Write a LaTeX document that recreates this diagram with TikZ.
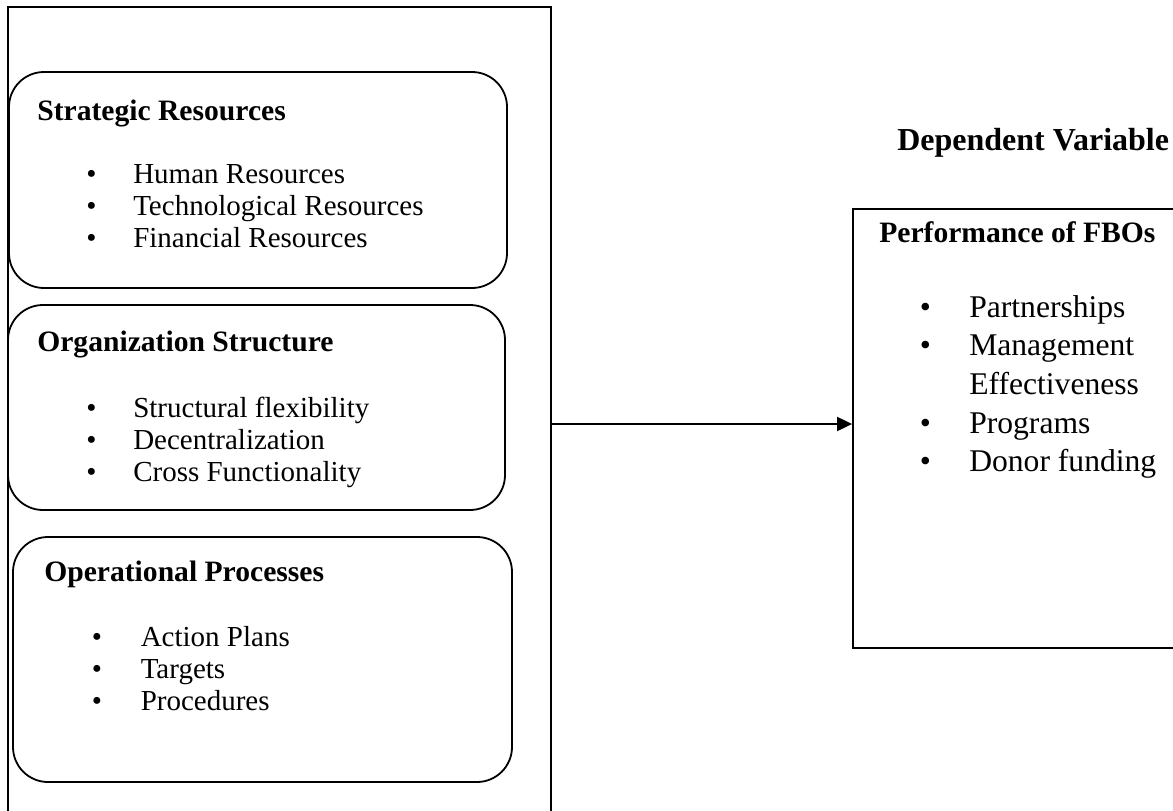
\documentclass[tikz,border=0pt]{standalone}
\usepackage{fontspec}
\setmainfont{Liberation Serif}
\usetikzlibrary{arrows.meta, positioning}

\begin{document}
\begin{tikzpicture}[
    x=1pt, y=-1pt,
    frame/.style={draw, line width=1.6pt, inner sep=0pt},
    group/.style={draw, rounded corners=35pt, line width=1.8pt, inner sep=0pt},
    head/.style={font=\fontsize{29.6}{34}\selectfont\bfseries, inner sep=0pt, anchor=base west},
    items/.style={font=\fontsize{29}{32}\selectfont, inner sep=0pt, anchor=base west},
    bighead/.style={font=\fontsize{32}{36}\selectfont\bfseries, inner sep=0pt, anchor=base west},
    bigitems/.style={font=\fontsize{31.6}{38.7}\selectfont, inner sep=0pt, anchor=base west},
    arrow/.style={-{Triangle[length=15pt, width=14pt]}, line width=2pt},
]
    \useasboundingbox (0,0) rectangle (1173,811);
    \clip (0,0) rectangle (1173,811);

    % independent variables
    \node[frame, minimum width=543pt, minimum height=893pt] (indep) at (279.5,453.5) {};

    \node[group, minimum width=498pt, minimum height=216pt] (strat) at (258,180) {};
    \node[head] (strathead) at ([shift={(29,49)}]strat.north west) {Strategic Resources};
    \node[items] (stratlist) at ([shift={(78,112)}]strat.north west) {\begin{tabular}[t]{@{}p{47pt}@{}l@{}}
        \textbullet & Human Resources\\
        \textbullet & Technological Resources\\
        \textbullet & Financial Resources
    \end{tabular}};

    \node[group, minimum width=497pt, minimum height=205pt] (orgs) at (256.5,407.5) {};
    \node[head] (orgshead) at ([shift={(30,47)}]orgs.north west) {Organization Structure};
    \node[items] (orgslist) at ([shift={(79,113)}]orgs.north west) {\begin{tabular}[t]{@{}p{47pt}@{}l@{}}
        \textbullet & Structural flexibility\\
        \textbullet & Decentralization\\
        \textbullet & Cross Functionality
    \end{tabular}};

    \node[group, minimum width=499pt, minimum height=245pt] (oper) at (262.5,659.5) {};
    \node[head] (operhead) at ([shift={(32,45)}]oper.north west) {Operational Processes};
    \node[items] (operlist) at ([shift={(79.5,110)}]oper.north west) {\begin{tabular}[t]{@{}p{49pt}@{}l@{}}
        \textbullet & Action Plans\\
        \textbullet & Targets\\
        \textbullet & Procedures
    \end{tabular}};

    % dependent variable
    \node[frame, line width=1.8pt, minimum width=347pt, minimum height=439pt] (perf) at (1026.5,428.5) {};
    \node[bighead] (deplabel) at ([shift={(45,-58)}]perf.north west) {Dependent Variable};
    \node[head] (perfhead) at ([shift={(27,34)}]perf.north west) {Performance of FBOs};
    \node[bigitems] (perflist) at ([shift={(67.5,109)}]perf.north west) {\begin{tabular}[t]{@{}p{49.5pt}@{}l@{}}
        \textbullet & Partnerships\\
        \textbullet & Management\\
                    & Effectiveness\\
        \textbullet & Programs\\
        \textbullet & Donor funding
    \end{tabular}};

    \coordinate (link) at (700,424);
    \draw[arrow] (indep.east |- link) -- (perf.west |- link);
\end{tikzpicture}
\end{document}
